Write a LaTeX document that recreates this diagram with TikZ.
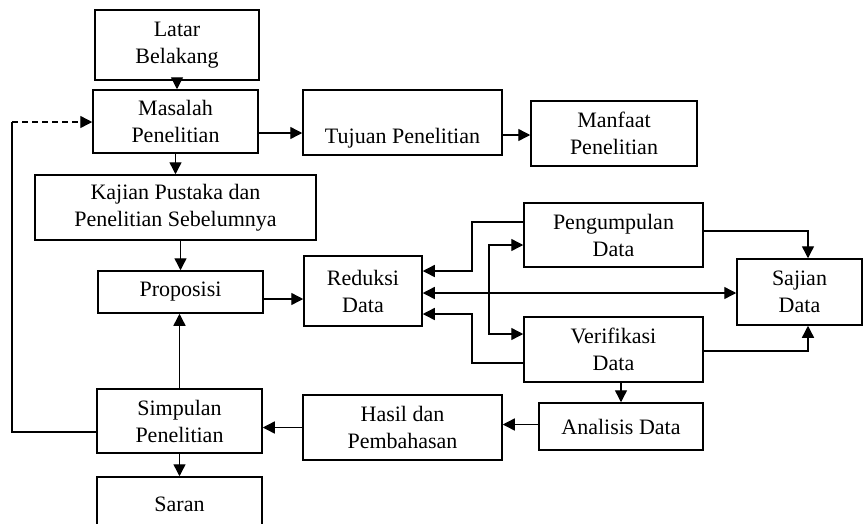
\documentclass[tikz,border=0pt]{standalone}
\usepackage{fontspec}
\setmainfont{Liberation Serif}
\usetikzlibrary{arrows.meta}

\begin{document}
\begin{tikzpicture}[x=1pt,y=-1pt,
    blok/.style={draw,line width=1.5pt,align=center,inner sep=0pt,
      font=\fontsize{22}{27}\selectfont},
    >={Triangle[length=12pt,width=12pt]},line width=1.4pt]
  \useasboundingbox (0,0) rectangle (863,523);
  \node[blok,minimum width=164,minimum height=70] (latar) at (177,45) {Latar\\Belakang};
  \node[blok,minimum width=165,minimum height=63] (masalah) at (175.5,121.5) {Masalah\\Penelitian};
  \node[blok,minimum width=281,minimum height=65] (kajian) at (175.5,207.5) {Kajian Pustaka dan\\Penelitian Sebelumnya};
  \node[blok,minimum width=199,minimum height=65,
    label={[font=\fontsize{22}{27}\selectfont,yshift=-16pt]center:Tujuan Penelitian}] (tujuan) at (402.5,122.5) {};
  \node[blok,minimum width=166,minimum height=65] (manfaat) at (614,133.5) {Manfaat\\Penelitian};
  \node[blok,minimum width=165,minimum height=42] (proposisi) at (180.5,292) {Proposisi};
  \node[blok,minimum width=118,minimum height=70] (reduksi) at (363,291) {Reduksi\\Data};
  \node[blok,minimum width=179,minimum height=64] (kumpul) at (613.5,235) {Pengumpulan\\Data};
  \node[blok,minimum width=179,minimum height=65] (verifikasi) at (613.5,349.5) {Verifikasi\\Data};
  \node[blok,minimum width=125,minimum height=66] (sajian) at (799.5,292) {Sajian\\Data};
  \node[blok,minimum width=164,minimum height=47] (analisis) at (621,426.5) {Analisis Data};
  \node[blok,minimum width=199,minimum height=65] (hasil) at (402.5,427.5) {Hasil dan\\Pembahasan};
  \node[blok,minimum width=165,minimum height=64] (simpulan) at (179.5,421) {Simpulan\\Penelitian};
  \node[blok,minimum width=165,minimum height=54] (saran) at (179.5,504) {Saran};

  \draw[->] (latar.south) -- (latar.south |- masalah.north);
  \draw[->] (masalah.south) -- (masalah.south |- kajian.north);
  \draw[->] ([yshift=-11.5pt]masalah.east) -- ([yshift=-11.5pt]masalah.east -| tujuan.west);
  \draw[->] ([yshift=-12.5pt]tujuan.east) -- ([yshift=-12.5pt]tujuan.east -| manfaat.west);
  \draw[->] (proposisi.north |- kajian.south) -- (proposisi.north);
  \draw[->] ([yshift=-7pt]proposisi.east) -- ([yshift=-7pt]proposisi.east -| reduksi.west);
  \draw[->] (simpulan.north) -- (simpulan.north |- proposisi.south);
  \draw[->] (simpulan.south) -- (saran.north);
  \draw[->] (hasil.west) -- (hasil.west -| simpulan.east);
  \draw[->] ([yshift=2pt]analisis.west) -- ([yshift=2pt]analisis.west -| hasil.east);
  \draw[->] (analisis.north |- verifikasi.south) -- (analisis.north);
  \draw[<->] ([yshift=-2pt]reduksi.east) -- ([yshift=-2pt]reduksi.east -| sajian.west);
  \draw[->] ([yshift=13pt]kumpul.west) -| (472,271) -- (reduksi.east |- 0,271);
  \draw[->] ([yshift=-13.5pt]verifikasi.west) -| (472,314) -- (reduksi.east |- 0,314);
  \draw[<->] (kumpul.west |- 0,245) -- (489,245) -- (489,334) -- (verifikasi.west |- 0,334);
  \draw[->] ([yshift=4pt]kumpul.east) -| (sajian.north -| 808,0);
  \draw[->] ([yshift=-1.5pt]verifikasi.east) -| (sajian.south -| 808,0);
  \coordinate (balik) at (12,122);
  \draw ([yshift=-11pt]simpulan.west) -| (balik);
  \draw[->,dash pattern=on 6pt off 4pt] (balik) -- (balik -| masalah.west);
\end{tikzpicture}
\end{document}
